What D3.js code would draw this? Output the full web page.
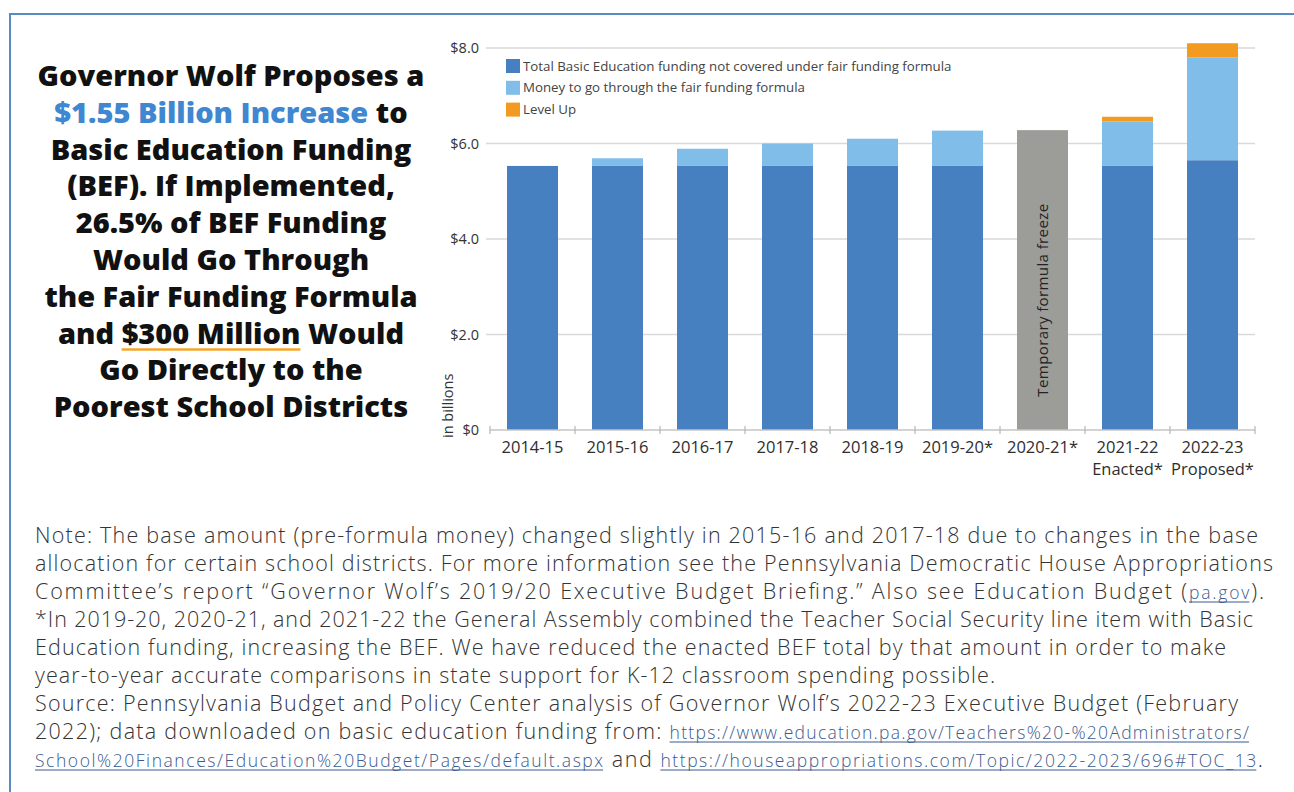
<!DOCTYPE html>
<html>
<head>
<meta charset="utf-8">
<script src="https://cdn.jsdelivr.net/npm/d3@7"></script>
<style>
  html, body { margin: 0; padding: 0; background: #fff; }
  svg { display: block; }
</style>
</head>
<body>
<svg id="fig" width="1294" height="792"></svg>
<script>
// School years shown on the axis
const categories = ["2014-15", "2015-16", "2016-17", "2017-18", "2018-19", "2019-20*", "2020-21*", "2021-22", "2022-23"];
const categorySubLabels = ["", "", "", "", "", "", "", "Enacted*", "Proposed*"];

// Basic Education Funding, in billions of dollars
const baseFunding    = [5.53, 5.53, 5.53, 5.53, 5.53, 5.53, 0,    5.53, 5.65];
const formulaFunding = [0,    0.16, 0.36, 0.47, 0.57, 0.74, 0,    0.93, 2.15];
const levelUpFunding = [0,    0,    0,    0,    0,    0,    0,    0.10, 0.30];
const frozenFunding  = [0,    0,    0,    0,    0,    0,    6.28, 0,    0];

const yTicks = [0, 2, 4, 6, 8];
const yTickLabels = ["$0", "$2.0", "$4.0", "$6.0", "$8.0"];

const seriesKeys = ["base", "formula", "levelUp", "frozen"];
const seriesLabels = [
  "Total Basic Education funding not covered under fair funding formula",
  "Money to go through the fair funding formula",
  "Level Up"
];
const seriesColors = { base: "#4680c0", formula: "#80bde8", levelUp: "#f39b21", frozen: "#9c9c98" };

const rows = categories.map((c, i) => ({
  year: c,
  base: baseFunding[i],
  formula: formulaFunding[i],
  levelUp: levelUpFunding[i],
  frozen: frozenFunding[i]
}));

const svg = d3.select("#fig");

// frame
svg.append("path")
  .attr("d", "M10,792 V14 H1300")
  .attr("fill", "none")
  .attr("stroke", "#5b89c4")
  .attr("stroke-width", 2);

// ---- headline on the left ----
const headFont = "'Open Sans', 'DejaVu Sans', sans-serif";
const headLines = [
  [["Governor Wolf Proposes a", "#111"]],
  [["$1.55 Billion Increase", "#3f87d0"], [" to", "#111"]],
  [["Basic Education Funding", "#111"]],
  [["(BEF). If Implemented,", "#111"]],
  [["26.5% of BEF Funding", "#111"]],
  [["Would Go Through", "#111"]],
  [["the Fair Funding Formula", "#111"]],
  [["and ", "#111"], ["$300 Million", "#111", true], [" Would", "#111"]],
  [["Go Directly to the", "#111"]],
  [["Poorest School Districts", "#111"]]
];
const head = svg.append("g");
headLines.forEach((parts, i) => {
  const t = head.append("text")
    .attr("x", 231)
    .attr("y", 86 + i * 36.8)
    .attr("text-anchor", "middle")
    .attr("font-family", headFont)
    .attr("font-weight", 800)
    .attr("font-size", 29);
  parts.forEach(p => {
    t.append("tspan").attr("fill", p[1]).attr("data-u", p[2] ? 1 : null).text(p[0]);
  });
});
// orange underline under "$300 Million"
head.selectAll("tspan[data-u]").each(function () {
  const n = this.getNumberOfChars();
  const start = this.getStartPositionOfChar(0);
  const end = this.getEndPositionOfChar(n - 1);
  head.append("line")
    .attr("x1", start.x).attr("x2", end.x)
    .attr("y1", start.y + 6).attr("y2", start.y + 6)
    .attr("stroke", "#f4a62a").attr("stroke-width", 2.5);
});

// ---- bar chart ----
const x = d3.scaleBand().domain(categories).range([490, 1255]).paddingInner(0.4).paddingOuter(0.2);
const y = d3.scaleLinear().domain([0, 8]).range([430, 48]);
const step = x.step();
const labelFont = "'Open Sans', 'Noto Sans', sans-serif";

// gridlines
svg.append("g").selectAll("line")
  .data(yTicks.filter(d => d > 0))
  .join("line")
  .attr("x1", 486).attr("x2", 1255)
  .attr("y1", d => y(d)).attr("y2", d => y(d))
  .attr("stroke", "#d9d9d9").attr("stroke-width", 1.5);

// y tick labels
svg.append("g").selectAll("text")
  .data(yTicks)
  .join("text")
  .attr("x", 479)
  .attr("y", d => y(d))
  .attr("dy", "0.35em")
  .attr("text-anchor", "end")
  .attr("font-family", labelFont)
  .attr("font-size", 14.5)
  .attr("fill", "#333")
  .text((d, i) => yTickLabels[i]);

// y axis title
svg.append("text")
  .attr("transform", "translate(453,438) rotate(-90)")
  .attr("font-family", labelFont)
  .attr("font-size", 14.5)
  .attr("fill", "#333")
  .text("in billions");

// stacked bars
const stacked = d3.stack().keys(seriesKeys)(rows);
svg.append("g").selectAll("g")
  .data(stacked)
  .join("g")
  .attr("fill", d => seriesColors[d.key])
  .selectAll("rect")
  .data(d => d.filter(s => s[1] - s[0] > 0))
  .join("rect")
  .attr("x", d => x(d.data.year))
  .attr("width", x.bandwidth())
  .attr("y", d => y(d[1]))
  .attr("height", d => y(d[0]) - y(d[1]));

// label inside the frozen bar
const frozenIdx = frozenFunding.findIndex(v => v > 0);
svg.append("text")
  .attr("transform", `translate(${x(categories[frozenIdx]) + x.bandwidth() / 2 + 5},${(y(0) + y(frozenFunding[frozenIdx])) / 2 + 20}) rotate(-90)`)
  .attr("text-anchor", "middle")
  .attr("font-family", labelFont)
  .attr("font-size", 15)
  .attr("letter-spacing", 0.4)
  .attr("fill", "#222")
  .text("Temporary formula freeze");

// x axis line and ticks at band boundaries
const axis = svg.append("g");
axis.append("line")
  .attr("x1", x.range()[0]).attr("x2", x.range()[1])
  .attr("y1", y(0)).attr("y2", y(0))
  .attr("stroke", "#c4c4c4").attr("stroke-width", 1.5);
const boundaries = categories.map(c => x(c) - step * x.paddingInner() / 2).concat([x.range()[1]]);
axis.selectAll("line.tick")
  .data(boundaries)
  .join("line")
  .attr("class", "tick")
  .attr("x1", d => d).attr("x2", d => d)
  .attr("y1", y(0) - 4).attr("y2", y(0) + 4)
  .attr("stroke", "#b5b5b5").attr("stroke-width", 1.2);

// category labels
const xl = axis.selectAll("text.cat")
  .data(categories)
  .join("text")
  .attr("class", "cat")
  .attr("x", d => x(d) + x.bandwidth() / 2)
  .attr("y", 453)
  .attr("text-anchor", "middle")
  .attr("font-family", labelFont)
  .attr("font-weight", 500)
  .attr("font-size", 16.5)
  .attr("fill", "#2e2e2e");
xl.append("tspan").text(d => d);
xl.append("tspan")
  .attr("x", d => x(d) + x.bandwidth() / 2)
  .attr("dy", 22)
  .text((d, i) => categorySubLabels[i]);

// legend
const legend = svg.append("g").selectAll("g")
  .data(seriesLabels)
  .join("g")
  .attr("transform", (d, i) => `translate(506,${59 + i * 21.8})`);
legend.append("rect")
  .attr("width", 14).attr("height", 14)
  .attr("fill", (d, i) => seriesColors[seriesKeys[i]]);
legend.append("text")
  .attr("x", 17).attr("y", 7).attr("dy", "0.35em")
  .attr("font-family", labelFont)
  .attr("font-size", 13.3)
  .attr("fill", "#444")
  .text(d => d);

// ---- notes and sources ----
const noteFont = "'Open Sans', 'Noto Sans', sans-serif";
const linkColor = "#3b5a8e";
const noteLines = [
  [["Note: The base amount (pre-formula money) changed slightly in 2015-16 and 2017-18 due to changes in the base"]],
  [["allocation for certain school districts. For more information see the Pennsylvania Democratic House Appropriations"]],
  [["Committee’s report “Governor Wolf’s 2019/20 Executive Budget Briefing.” Also see Education Budget ("], ["pa.gov", true], [")."]],
  [["*In 2019-20, 2020-21, and 2021-22 the General Assembly combined the Teacher Social Security line item with Basic"]],
  [["Education funding, increasing the BEF. We have reduced the enacted BEF total by that amount in order to make"]],
  [["year-to-year accurate comparisons in state support for K-12 classroom spending possible."]],
  [["Source: Pennsylvania Budget and Policy Center analysis of Governor Wolf’s 2022-23 Executive Budget (February"]],
  [["2022); data downloaded on basic education funding from: "], ["https://www.education.pa.gov/Teachers%20-%20Administrators/", true]],
  [["School%20Finances/Education%20Budget/Pages/default.aspx", true], [" and "], ["https://houseappropriations.com/Topic/2022-2023/696#TOC_13", true], ["."]]
];
// width of each wrapped line
const noteLineLengths = [1223, 1238, 1229, 1218, 1191, 960, 1203, 1214, 1228];
const notes = svg.append("g");
noteLines.forEach((parts, i) => {
  const t = notes.append("text")
    .attr("x", 35)
    .attr("y", 543 + i * 28)
    .attr("font-family", noteFont)
    .attr("font-weight", 300)
    .attr("font-size", 21.5)
    .attr("fill", "#333");
  parts.forEach(p => {
    const s = t.append("tspan").text(p[0]);
    if (p[1]) {
      s.attr("class", "link")
        .attr("fill", linkColor)
        .attr("font-size", 17.5);
    }
  });
  t.attr("textLength", noteLineLengths[i]).attr("lengthAdjust", "spacing");
});
// continuous underlines beneath the links
notes.selectAll("tspan.link").each(function () {
  const n = this.getNumberOfChars();
  const start = this.getStartPositionOfChar(0);
  const end = this.getEndPositionOfChar(n - 1);
  notes.append("line")
    .attr("x1", start.x).attr("x2", end.x)
    .attr("y1", start.y + 3).attr("y2", start.y + 3)
    .attr("stroke", linkColor).attr("stroke-width", 1);
});
</script>
</body>
</html>
